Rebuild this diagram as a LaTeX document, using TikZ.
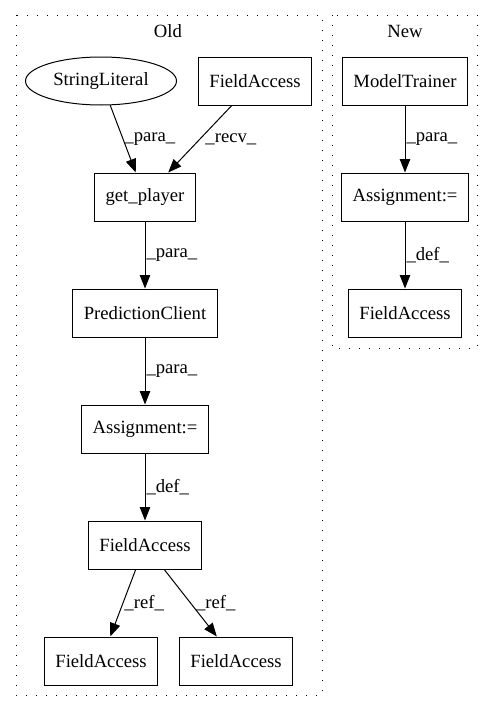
\documentclass[tikz,border=0pt]{standalone}
\usepackage{fontspec}
\setmainfont{Liberation Serif}
\usetikzlibrary{arrows.meta,shapes.geometric}
\begin{document}
\begin{tikzpicture}[x=1pt, y=-1pt, line width=1pt,
    every node/.style={font=\fontsize{18.67pt}{22pt}\selectfont},
    blocco/.style={draw, rectangle, minimum height=48pt, inner xsep=11pt, inner ysep=0pt},
    ovale/.style={draw, ellipse, minimum width=151pt, minimum height=48pt, inner sep=0pt},
    freccia/.style={-{Triangle[length=13.5pt, width=10.5pt]}},
    etich/.style={anchor=west, inner sep=1pt},
    gruppo/.style={dash pattern=on 1.3pt off 8.7pt}]

    \useasboundingbox (0,0) rectangle (495,712);

    % -- Gruppo di sinistra: Old --
    \draw[gruppo] (16,15) rectangle (322,695);
    \node (tOld) at (168,31) {Old};

    \node[ovale]  (strLit)  at (101,81)  {StringLiteral};
    \node[blocco] (faTop)   at (255,81)  {FieldAccess};
    \node[blocco] (getPl)   at (145,197) {get\_player};
    \node[blocco] (predCl)  at (145,313) {PredictionClient};
    \node[blocco] (assOld)  at (145,429) {Assignment:=};
    \node[blocco] (faMid)   at (145,545) {FieldAccess};
    \node[blocco] (faSx)    at (101,661) {FieldAccess};
    \node[blocco] (faDx)    at (236,661) {FieldAccess};

    \draw[freccia] (strLit) -- node[etich] {\_para\_} (getPl);
    \draw[freccia] (faTop) -- node[etich, xshift=4pt] {\_recv\_} (getPl);
    \draw[freccia] (getPl) -- node[etich] {\_para\_} (predCl);
    \draw[freccia] (predCl) -- node[etich] {\_para\_} (assOld);
    \draw[freccia] (assOld) -- node[etich] {\_def\_} (faMid);
    \draw[freccia] (faMid) -- node[etich] {\_ref\_} (faSx);
    \draw[freccia] (faMid) -- node[etich, xshift=4pt] {\_ref\_} (faDx);

    % -- Gruppo di destra: New --
    \draw[gruppo] (332,15) rectangle (477,348);
    \node (tNew) at (405,31) {New};

    \node[blocco] (modTr)  at (405,81)  {ModelTrainer};
    \node[blocco] (assNew) at (405,197) {Assignment:=};
    \node[blocco] (faNew)  at (405,313) {FieldAccess};

    \draw[freccia] (modTr) -- node[etich] {\_para\_} (assNew);
    \draw[freccia] (assNew) -- node[etich] {\_def\_} (faNew);
\end{tikzpicture}
\end{document}
